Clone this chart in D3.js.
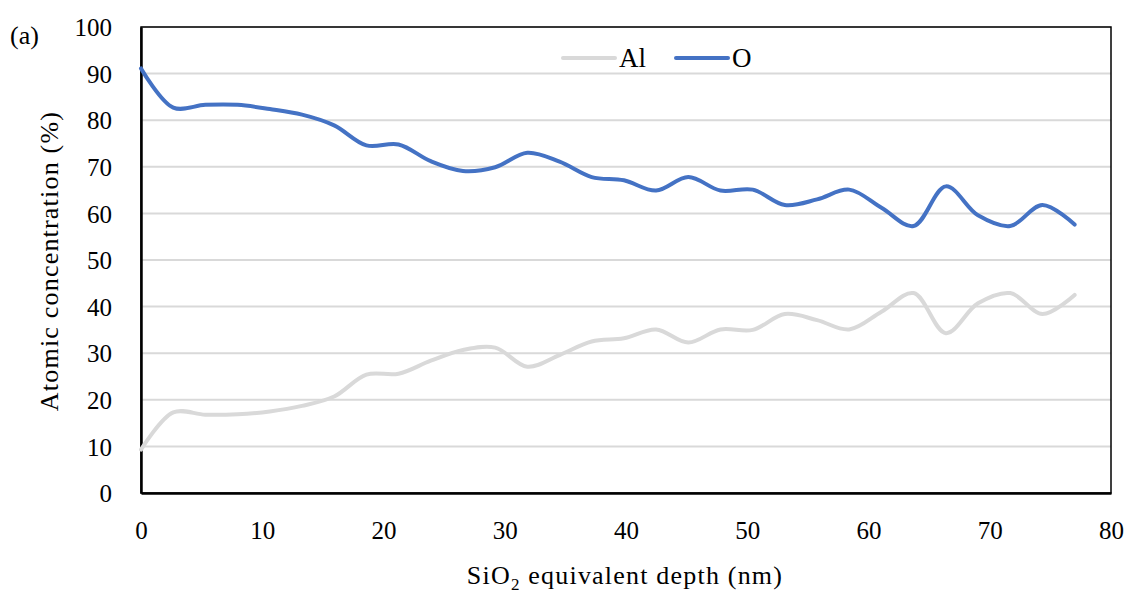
<!DOCTYPE html>
<meta charset="utf-8">
<title>Atomic concentration depth profile</title>
<style>
  body { margin: 0; background: #fff; }
  text { font-family: "Liberation Serif", "DejaVu Serif", serif; fill: #000; }
</style>
<body>
<script src="https://cdn.jsdelivr.net/npm/d3@7"></script>
<script>

var width = 1129,
    height = 594;

// SiO2 equivalent depth (nm)
var depth = [0, 2.66, 5.31, 7.97, 10.62, 13.28, 15.93, 18.59, 21.24, 23.9,
             26.55, 29.21, 31.86, 34.52, 37.17, 39.83, 42.48, 45.14, 47.79, 50.45,
             53.1, 55.76, 58.41, 61.07, 63.72, 66.38, 69.03, 71.69, 74.34, 77.0];

// atomic concentration (%)
var al = [9.3, 17.3, 16.8, 16.9, 17.5, 18.7, 20.7, 25.4, 25.6, 28.4,
          30.7, 31.2, 27.1, 29.6, 32.5, 33.2, 35.1, 32.3, 35.1, 35.0,
          38.4, 37.1, 35.1, 38.9, 42.9, 34.3, 40.7, 42.9, 38.4, 42.5];

var o = [91.1, 82.7, 83.3, 83.3, 82.4, 81.2, 78.9, 74.6, 74.8, 71.2,
         69.1, 69.9, 73.0, 71.1, 67.8, 67.1, 64.9, 67.8, 64.9, 65.1,
         61.8, 63.0, 65.1, 61.2, 57.3, 65.8, 59.6, 57.3, 61.8, 57.6];

var xTicks = [0, 10, 20, 30, 40, 50, 60, 70, 80];
var yTicks = [0, 10, 20, 30, 40, 50, 60, 70, 80, 90, 100];

var series = [
  {name: "Al", values: al, color: "#d9d9d9"},
  {name: "O", values: o, color: "#4472c4"}
];

var margin = {top: 27, right: 18, bottom: 101, left: 141};

var x = d3.scaleLinear()
    .domain([0, 80])
    .range([margin.left, width - margin.right]);

var y = d3.scaleLinear()
    .domain([0, 100])
    .range([height - margin.bottom, margin.top]);

var svg = d3.select("body").append("svg")
    .attr("width", width)
    .attr("height", height);

// gridlines
svg.append("g")
  .selectAll("line")
    .data(yTicks.slice(1))
  .enter().append("line")
    .attr("x1", x(0))
    .attr("x2", x(80))
    .attr("y1", function(d) { return y(d); })
    .attr("y2", function(d) { return y(d); })
    .attr("stroke", "#d9d9d9")
    .attr("stroke-width", 2);

// frame
svg.append("rect")
    .attr("x", x(0))
    .attr("y", y(100))
    .attr("width", x(80) - x(0))
    .attr("height", y(0) - y(100))
    .attr("fill", "none")
    .attr("stroke", "#000")
    .attr("stroke-width", 1.5);

var yAxis = svg.append("g")
    .attr("transform", "translate(" + x(0) + ",0)")
    .call(d3.axisLeft(y).tickValues(yTicks).tickSize(0).tickPadding(29));

var xAxis = svg.append("g")
    .attr("transform", "translate(0," + y(0) + ")")
    .call(d3.axisBottom(x).tickValues(xTicks).tickSize(0).tickPadding(28));

[yAxis, xAxis].forEach(function(g) {
  g.select(".domain").attr("stroke", "#000").attr("stroke-width", 2.5);
  g.selectAll("text").style("font-size", "25px").attr("fill", "#000")
    .style("font-family", '"Liberation Serif", "DejaVu Serif", serif');
});
yAxis.selectAll("text").attr("dy", "0.35em");

// lines
var line = d3.line()
    .x(function(d, i) { return x(depth[i]); })
    .y(function(d) { return y(d); })
    .curve(d3.curveCatmullRom.alpha(0.5));

svg.append("g")
  .selectAll("path")
    .data(series)
  .enter().append("path")
    .attr("d", function(d) { return line(d.values); })
    .attr("fill", "none")
    .attr("stroke", function(d) { return d.color; })
    .attr("stroke-width", 4)
    .attr("stroke-linecap", "round")
    .attr("stroke-linejoin", "round");

// legend
var legend = svg.append("g")
  .selectAll("g")
    .data(series)
  .enter().append("g")
    .attr("transform", function(d, i) { return "translate(" + (563 + i * 113) + ",58)"; });

legend.append("line")
    .attr("x1", 0)
    .attr("x2", 52)
    .attr("stroke", function(d) { return d.color; })
    .attr("stroke-width", 4)
    .attr("stroke-linecap", "round");

legend.append("text")
    .attr("x", 56)
    .attr("y", 9)
    .style("font-size", "27px")
    .text(function(d) { return d.name; });

// axis titles
var xTitle = svg.append("text")
    .attr("x", 625)
    .attr("y", 584)
    .attr("text-anchor", "middle")
    .style("font-size", "26px")
    .style("letter-spacing", "1.2px");
xTitle.append("tspan").text("SiO");
xTitle.append("tspan").attr("dy", 6).style("font-size", "17px").text("2");
xTitle.append("tspan").attr("dy", -6).text(" equivalent depth (nm)");

svg.append("text")
    .attr("transform", "translate(58,261) rotate(-90)")
    .attr("text-anchor", "middle")
    .style("font-size", "26px")
    .style("letter-spacing", "1.2px")
    .text("Atomic concentration (%)");

svg.append("text")
    .attr("x", 10)
    .attr("y", 44)
    .style("font-size", "26px")
    .text("(a)");

</script>
